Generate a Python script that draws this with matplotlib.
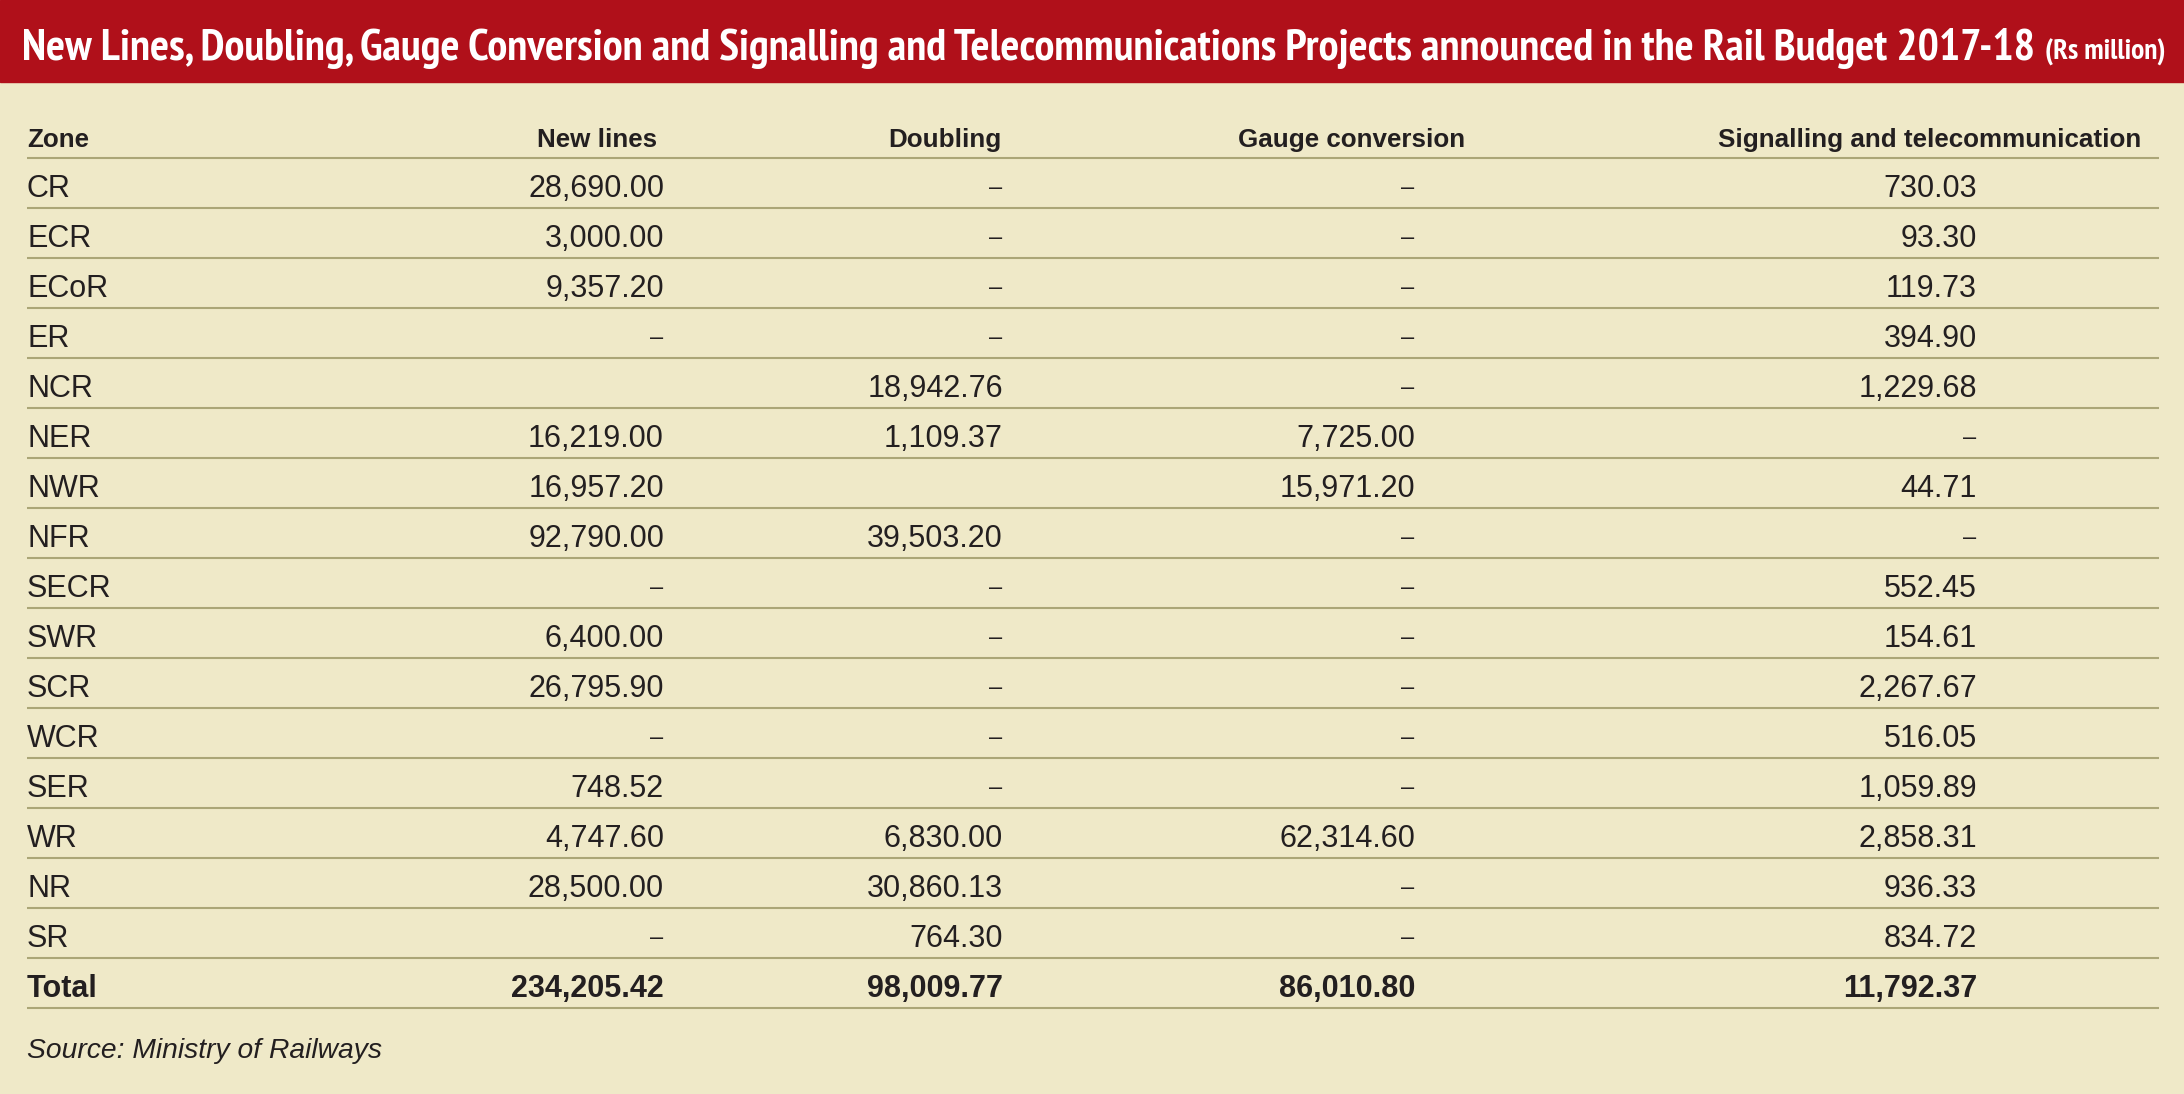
import numpy as np
import matplotlib
matplotlib.use("Agg")
import matplotlib.pyplot as plt
from matplotlib import font_manager

# ---------------- data ----------------
title_main = "New Lines, Doubling, Gauge Conversion and Signalling and Telecommunications Projects announced in the Rail Budget 2017-18"
title_unit = "(Rs million)"
col_headers = ["Zone", "New lines", "Doubling", "Gauge conversion", "Signalling and telecommunication"]
zones = ["CR", "ECR", "ECoR", "ER", "NCR", "NER", "NWR", "NFR", "SECR", "SWR",
         "SCR", "WCR", "SER", "WR", "NR", "SR"]
NA = None          # shown as a dash
BLANK = np.nan     # shown as an empty cell
new_lines = [28690.00, 3000.00, 9357.20, NA, BLANK, 16219.00, 16957.20, 92790.00,
             NA, 6400.00, 26795.90, NA, 748.52, 4747.60, 28500.00, NA]
doubling = [NA, NA, NA, NA, 18942.76, 1109.37, BLANK, 39503.20,
            NA, NA, NA, NA, NA, 6830.00, 30860.13, 764.30]
gauge_conversion = [NA, NA, NA, NA, NA, 7725.00, 15971.20, NA,
                    NA, NA, NA, NA, NA, 62314.60, NA, NA]
signalling = [730.03, 93.30, 119.73, 394.90, 1229.68, NA, 44.71, NA,
              552.45, 154.61, 2267.67, 516.05, 1059.89, 2858.31, 936.33, 834.72]
total_label = "Total"
totals = [234205.42, 98009.77, 86010.80, 11792.37]
source = "Source: Ministry of Railways"

# ---------------- style ----------------
W, H, DPI = 2184, 1094, 100
BG = "#EFE9C8"
RED = "#B0101A"
TXT = "#231F20"
RULE = "#ABA677"


def has_font(name):
    try:
        font_manager.findfont(font_manager.FontProperties(family=name), fallback_to_default=False)
        return True
    except Exception:
        return False


def first_font(cands, default="DejaVu Sans"):
    for c in cands:
        if has_font(c):
            return c
    return default


BODY = first_font(["Liberation Sans", "Arimo"])
TITLE = first_font(["PT Sans Narrow", "Fira Sans Condensed", "Open Sans Condensed",
                    "Roboto Condensed", "Liberation Sans Narrow"], BODY)

fig = plt.figure(figsize=(W / DPI, H / DPI), dpi=DPI)
fig.patch.set_facecolor(BG)
ax = fig.add_axes([0, 0, 1, 1])
ax.set_xlim(0, W)
ax.set_ylim(H, 0)
ax.axis("off")

# header band
ax.add_patch(plt.Rectangle((0, 0), W, 82, color=RED, zorder=0))

renderer = fig.canvas.get_renderer()


def fit_text(x, y, s, target_w, size0, **kw):
    t = ax.text(x, y, s, fontsize=size0, **kw)
    w = t.get_window_extent(renderer).width
    t.set_fontsize(size0 * target_w / w)
    return t


fit_text(22, 60, title_main, 2013, 28, color="white", fontweight="bold",
         family=TITLE, va="baseline", ha="left")
fit_text(2045, 60, title_unit, 121, 18, color="white", fontweight="bold",
         family=TITLE, va="baseline", ha="left")

# table layout
x_left = 27
x_right_line = 2159
col_right_vals = [664, 1003, 1415, 1977]
col_right_head = [657, 1002, 1465, 2141]
head_bottom = 158
row_h = 50
base_off = 11
body_fs = 22
head_fs = 18.7

columns = [new_lines, doubling, gauge_conversion, signalling]

# header row
ax.text(x_left, head_bottom - base_off, col_headers[0], fontsize=head_fs, fontweight="bold",
        family=BODY, color=TXT, ha="left", va="baseline")
for xr, h in zip(col_right_head, col_headers[1:]):
    ax.text(xr, head_bottom - base_off, h, fontsize=head_fs, fontweight="bold",
            family=BODY, color=TXT, ha="right", va="baseline")


def fmt(v):
    return f"{v:,.2f}"


n = len(zones)
for i, z in enumerate(zones):
    yb = head_bottom + row_h * (i + 1) - base_off
    ax.text(x_left, yb, z, fontsize=body_fs, family=BODY, color=TXT, ha="left", va="baseline")
    for xr, col in zip(col_right_vals, columns):
        v = col[i]
        if v is None:
            ax.text(xr - 1, yb - 3, "\u2013", fontsize=17, family=BODY, color=TXT,
                    ha="right", va="baseline")
        elif isinstance(v, float) and np.isnan(v):
            continue
        else:
            ax.text(xr, yb, fmt(v), fontsize=body_fs, family=BODY, color=TXT,
                    ha="right", va="baseline")

# total row
yb = head_bottom + row_h * (n + 1) - base_off
ax.text(x_left, yb, total_label, fontsize=body_fs, fontweight="bold", family=BODY,
        color=TXT, ha="left", va="baseline")
for xr, v in zip(col_right_vals, totals):
    ax.text(xr, yb, fmt(v), fontsize=body_fs, fontweight="bold", family=BODY,
            color=TXT, ha="right", va="baseline")

# rules
for k in range(n + 2):
    y = head_bottom + row_h * k
    ax.plot([x_left, x_right_line], [y, y], color=RULE, lw=1.5, solid_capstyle="butt")

# source
ax.text(x_left, 1058, source, fontsize=20.3, style="italic", family=BODY, color=TXT,
        ha="left", va="baseline")

fig.savefig("out.png", dpi=DPI, facecolor=BG)
